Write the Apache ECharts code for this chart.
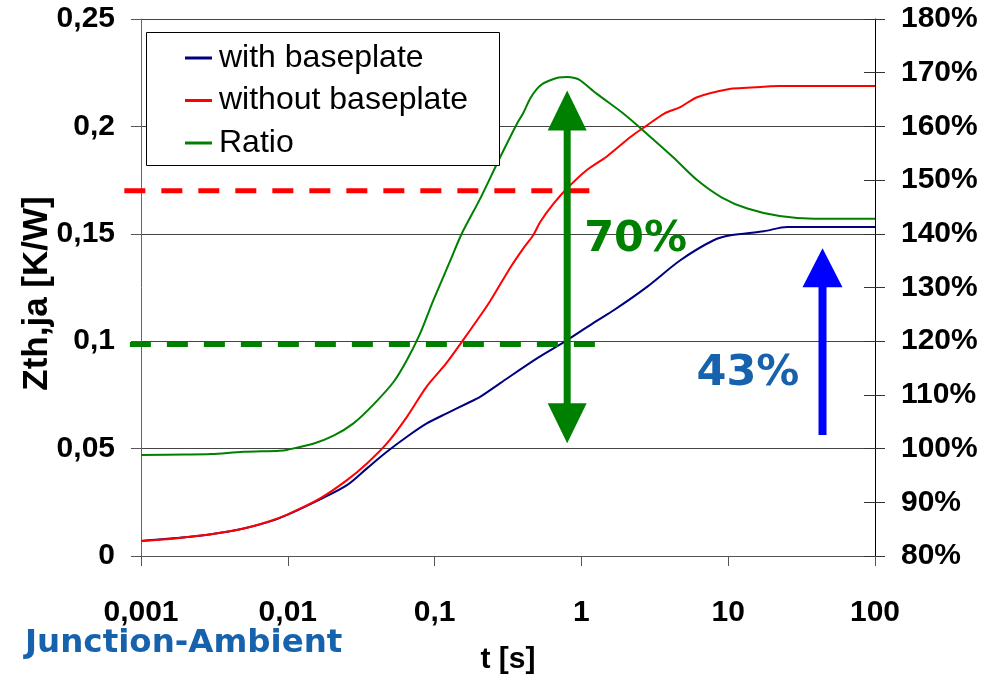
<!DOCTYPE html>
<html>
<head>
<meta charset="utf-8">
<script src="https://cdn.jsdelivr.net/npm/echarts@6/dist/echarts.min.js"></script>
<style>
html,body{margin:0;padding:0;background:#fff;}
#chart{width:995px;height:675px;}
</style>
</head>
<body>
<div id="chart"></div>
<script>
// ---- data ----
const seriesNames = ['with baseplate', 'without baseplate', 'Ratio'];

const withT = [0.001, 0.002, 0.003, 0.005, 0.0075, 0.01, 0.0166, 0.0253, 0.0346, 0.0473, 0.0648, 0.0885, 0.121, 0.166, 0.204, 0.28, 0.498, 0.80, 1.27, 1.66, 2.8, 4.72, 7.96, 10.4, 17.5, 25.2, 100];
const withV = [0.0070, 0.0087, 0.0101, 0.0128, 0.0160, 0.0193, 0.0264, 0.0330, 0.0408, 0.0485, 0.0555, 0.0617, 0.0664, 0.0710, 0.0741, 0.0805, 0.0920, 0.1005, 0.1095, 0.1144, 0.1253, 0.1377, 0.1470, 0.1493, 0.1512, 0.1532, 0.1532];

const withoutT = [0.001, 0.0015, 0.002, 0.003, 0.005, 0.0075, 0.01, 0.0166, 0.0253, 0.0346, 0.0473, 0.0648, 0.0885, 0.121, 0.174, 0.238, 0.326, 0.40, 0.469, 0.524, 0.646, 0.80, 1.08, 1.49, 2.17, 2.8, 3.67, 4.72, 6.14, 10.4, 13.5, 22.4, 100];
const withoutV = [0.0070, 0.0078, 0.0087, 0.0101, 0.0128, 0.0162, 0.0194, 0.0268, 0.0353, 0.0431, 0.0524, 0.0648, 0.0790, 0.0900, 0.1050, 0.1185, 0.1340, 0.1430, 0.1493, 0.1555, 0.1640, 0.1712, 0.1795, 0.1860, 0.1952, 0.2005, 0.2060, 0.2090, 0.2136, 0.2175, 0.2180, 0.2188, 0.2188];

const ratioT = [0.001, 0.002, 0.003, 0.005, 0.0088, 0.01, 0.0149, 0.0205, 0.028, 0.038, 0.0525, 0.0648, 0.0796, 0.098, 0.127, 0.153, 0.204, 0.28, 0.364, 0.40, 0.448, 0.498, 0.55, 0.613, 0.70, 0.80, 0.90, 0.98, 1.27, 1.93, 2.8, 4.2, 6.14, 9.0, 13.5, 22.4, 38.6, 100];
const ratioV = [98.8, 98.9, 99.0, 99.4, 99.6, 99.8, 100.9, 102.4, 104.7, 108.1, 112.4, 116.5, 121.4, 127.6, 134.8, 140.0, 146.5, 154.3, 160.5, 162.4, 165.2, 167.0, 168.0, 168.6, 169.1, 169.2, 169.0, 168.6, 166.1, 162.4, 158.6, 154.3, 150.0, 146.8, 144.7, 143.3, 142.8, 142.8];

// left axis ticks (K/W), right axis ticks (%)
const leftMin = 0, leftMax = 0.25, leftStep = 0.05;
const rightMin = 80, rightMax = 180, rightStep = 10;
const xMin = 0.001, xMax = 100;

// annotation values
const redRefValue = 0.17, redRefFrom = 0.00077, redRefTo = 1.22;
const greenRefValue = 0.0985, greenRefFrom = 0.00084, greenRefTo = 1.32;
const gainArrowT = 0.8, gainArrowTop = 166.7, gainArrowBottom = 101.0;      // right axis
const gainLabel = '70%';
const baseArrowT = 43.9, baseArrowTop = 0.1433, baseArrowBottom = 0.0563;   // left axis
const baseLabel = '43%';
const caption = 'Junction-Ambient';

// ---- chart ----
const zip = (a, b) => a.map((v, i) => [v, b[i]]);
const fmtNum = v => String(Number(Number(v).toPrecision(6))).replace('.', ',');

const chart = echarts.init(document.getElementById('chart'), null, {renderer: 'canvas'});
const labelFont = {fontFamily: 'Liberation Sans, Arial, sans-serif', fontWeight: 'bold', fontSize: 30, color: '#000'};

const option = {
  animation: false,
  backgroundColor: '#fff',
  grid: {left: 141, right: 120, top: 19, bottom: 119, containLabel: false, outerBoundsMode: 'none'},
  legend: {
    orient: 'vertical',
    left: 185, top: 42,
    itemGap: 10.5,
    itemWidth: 27, itemHeight: 3,
    icon: 'rect',
    padding: 0,
    z: 100,
    textStyle: {fontFamily: 'Liberation Sans, Arial, sans-serif', fontSize: 32, color: '#000', padding: [0, 0, 0, 2]},
    data: seriesNames
  },
  xAxis: {
    type: 'log', logBase: 10, min: xMin, max: xMax,
    name: 't [s]', nameLocation: 'middle', nameGap: 89, nameMoveOverlap: false,
    nameTextStyle: labelFont,
    axisLine: {show: true, lineStyle: {color: '#555', width: 1}},
    axisTick: {show: true, length: 10, lineStyle: {color: '#555'}},
    minorTick: {show: false},
    splitLine: {show: false},
    axisLabel: Object.assign({margin: 42, formatter: fmtNum}, labelFont)
  },
  yAxis: [
    {
      type: 'value', min: leftMin, max: leftMax, interval: leftStep, position: 'left',
      name: 'Zth,ja [K/W]', nameLocation: 'middle', nameGap: 86, nameRotate: 90, nameMoveOverlap: false,
      nameTextStyle: Object.assign({}, labelFont, {fontSize: 35, padding: [0, 12, 0, 0]}),
      axisLine: {show: true, lineStyle: {color: '#666', width: 1}},
      axisTick: {show: true, length: 10, lineStyle: {color: '#555'}},
      splitLine: {show: true, lineStyle: {color: '#444', width: 1}},
      axisLabel: Object.assign({margin: 26, formatter: fmtNum}, labelFont)
    },
    {
      type: 'value', min: rightMin, max: rightMax, interval: rightStep, position: 'right',
      axisLine: {show: true, lineStyle: {color: '#000', width: 1}},
      axisTick: {show: true, length: 10, lineStyle: {color: '#333'}},
      splitLine: {show: false},
      axisLabel: Object.assign({margin: 26, formatter: '{value}%'}, labelFont)
    },
    {
      type: 'value', min: rightMin, max: rightMax, interval: rightStep, position: 'right',
      axisLine: {show: false},
      axisTick: {show: true, inside: true, length: 11, lineStyle: {color: '#333'}},
      splitLine: {show: false},
      axisLabel: {show: false}
    }
  ],
  series: [
    {name: seriesNames[0], type: 'line', yAxisIndex: 0, data: zip(withT, withV), showSymbol: false, symbol: 'none',
     lineStyle: {color: '#000080', width: 2}, itemStyle: {color: '#000080'}, smooth: 0.3},
    {name: seriesNames[1], type: 'line', yAxisIndex: 0, data: zip(withoutT, withoutV), showSymbol: false, symbol: 'none',
     lineStyle: {color: '#ff0000', width: 2}, itemStyle: {color: '#ff0000'}, smooth: 0.3},
    {name: seriesNames[2], type: 'line', yAxisIndex: 1, data: zip(ratioT, ratioV), showSymbol: false, symbol: 'none',
     lineStyle: {color: '#008000', width: 2}, itemStyle: {color: '#008000'}, smooth: 0.3}
  ]
};
chart.setOption(option);

// ---- annotations positioned through the chart's own scales ----
const pL = (t, v) => chart.convertToPixel({xAxisIndex: 0, yAxisIndex: 0}, [t, v]);
const pR = (t, v) => chart.convertToPixel({xAxisIndex: 0, yAxisIndex: 1}, [t, v]);

function dashLine(a, b, color) {
  return {type: 'line', z: 40, shape: {x1: a[0], y1: a[1], x2: b[0], y2: b[1]},
          style: {stroke: color, lineWidth: 5, lineDash: [21, 16]}};
}
function arrowUp(tip, bottom, headW, headH, shaftW, color) {
  const x = tip[0];
  return [
    {type: 'rect', z: 40, shape: {x: x - shaftW / 2, y: tip[1] + headH - 1, width: shaftW, height: bottom[1] - tip[1] - headH + 1}, style: {fill: color}},
    {type: 'polygon', z: 41, shape: {points: [[x, tip[1]], [x - headW / 2, tip[1] + headH], [x + headW / 2, tip[1] + headH]]}, style: {fill: color}}
  ];
}
function arrowDouble(top, bottom, headW, headH, shaftW, color) {
  const x = top[0];
  return [
    {type: 'rect', z: 40, shape: {x: x - shaftW / 2, y: top[1] + headH - 1, width: shaftW, height: bottom[1] - top[1] - 2 * headH + 2}, style: {fill: color}},
    {type: 'polygon', z: 41, shape: {points: [[x, top[1]], [x - headW / 2, top[1] + headH], [x + headW / 2, top[1] + headH]]}, style: {fill: color}},
    {type: 'polygon', z: 41, shape: {points: [[x, bottom[1]], [x - headW / 2, bottom[1] - headH], [x + headW / 2, bottom[1] - headH]]}, style: {fill: color}}
  ];
}

const gTop = pR(gainArrowT, gainArrowTop), gBot = pR(gainArrowT, gainArrowBottom);
const bTop = pL(baseArrowT, baseArrowTop), bBot = pL(baseArrowT, baseArrowBottom);
const annoFont = 'bold 43px "DejaVu Sans", Verdana, sans-serif';

const elements = [
  // legend box
  {type: 'rect', z: 50, shape: {x: 146.5, y: 32.5, width: 353, height: 133}, style: {fill: '#fff', stroke: '#000', lineWidth: 1}},
  dashLine(pL(redRefFrom, redRefValue), pL(redRefTo, redRefValue), '#ff0000'),
  dashLine(pL(greenRefFrom, greenRefValue), pL(greenRefTo, greenRefValue), '#008000'),
  ...arrowDouble(gTop, gBot, 39, 40, 7, '#008000'),
  ...arrowUp(bTop, bBot, 40, 39, 8, '#0000ff'),
  {type: 'text', z: 45, x: gTop[0] + 17, y: 240, style: {text: gainLabel, font: annoFont, fill: '#008000', verticalAlign: 'middle', align: 'left'}},
  {type: 'text', z: 45, x: bTop[0] - 126, y: 374, style: {text: baseLabel, font: annoFont, fill: '#1762ad', verticalAlign: 'middle', align: 'left'}},
  {type: 'text', z: 45, x: 25, y: 644, style: {text: caption, font: 'bold 32.5px "DejaVu Sans", Verdana, sans-serif', fill: '#1762ad', verticalAlign: 'middle', align: 'left'}}
];
chart.setOption({graphic: {elements: elements}});
</script>
</body>
</html>
